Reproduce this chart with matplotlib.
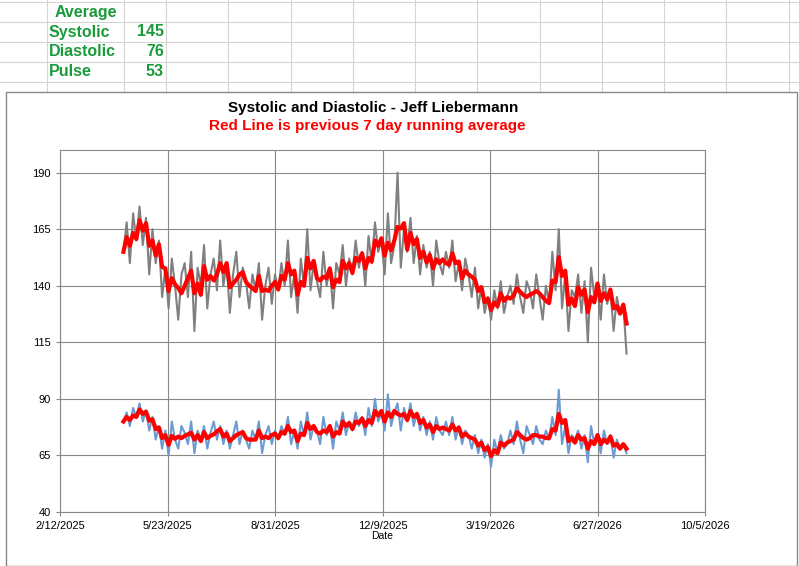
import matplotlib
matplotlib.use("Agg")
import matplotlib.pyplot as plt
from matplotlib.lines import Line2D
from matplotlib.patches import Rectangle
import pandas as pd

plt.rcParams['font.family'] = ['Liberation Sans', 'DejaVu Sans']

start_date = "2025-04-12"
step_days = 3
systolic = [
155,168,150,172,160,175,158,170,145,165,
150,160,135,148,130,152,140,125,145,150,
135,155,120,148,140,158,130,145,152,138,
160,140,150,128,145,155,135,148,142,130,
145,138,150,125,140,148,132,145,138,150,
140,160,135,145,128,152,140,165,138,150,
142,135,155,140,148,130,150,145,158,140,
152,145,160,148,155,140,162,150,168,155,
160,145,172,150,158,190,148,165,155,170,
150,162,145,158,148,155,140,160,150,145,
155,148,160,142,150,138,152,145,135,148,
130,140,128,135,125,138,130,142,128,135,
140,132,145,135,128,142,138,130,145,135,
125,140,132,155,138,165,130,145,120,138,
135,145,128,142,115,148,135,140,125,145,
132,138,120,135,128,132,110]
diastolic = [
80,84,78,86,82,88,80,85,76,82,
72,78,68,76,65,80,72,68,78,75,
70,80,66,76,72,78,68,75,80,72,
78,70,76,68,74,80,70,76,72,68,
76,72,80,66,74,78,70,76,72,78,
74,82,70,76,68,80,74,84,72,78,
76,70,82,74,78,68,80,76,84,74,
80,76,84,78,82,74,86,78,90,80,
84,76,92,78,84,88,76,86,80,88,
78,84,76,82,74,80,72,82,76,74,
80,74,82,72,78,70,76,74,68,74,
66,72,64,70,60,72,66,74,68,70,
76,70,80,72,66,78,74,70,78,72,
70,76,72,82,74,94,70,78,66,74,
72,76,68,74,62,78,70,74,66,76,
70,74,64,72,68,70,66]
summary_labels = ["Systolic", "Diastolic", "Pulse"]
summary_values = [145, 76, 53]
xtick_labels = ["2/12/2025","5/23/2025","8/31/2025","12/9/2025","3/19/2026","6/27/2026","10/5/2026"]
yticks = [40, 65, 90, 115, 140, 165, 190]

dates = pd.date_range(start_date, periods=len(systolic), freq=f"{step_days}D")
sys_avg = pd.Series(systolic).rolling(3, min_periods=1).mean()
dia_avg = pd.Series(diastolic).rolling(3, min_periods=1).mean()

W, H = 799, 566
fig = plt.figure(figsize=(W/100, H/100), dpi=100)
fig.patch.set_facecolor("white")
def fx(x): return x / W
def fy(y): return 1 - y / H

for x in [47,124,166,228,291,353,415,477,540,602,664,726,789]:
    fig.add_artist(Line2D([fx(x), fx(x)], [fy(0), fy(92)], color="#d4d4d4", lw=0.8, zorder=-3))
for y in [2,22,42,62,82]:
    fig.add_artist(Line2D([0, 1], [fy(y), fy(y)], color="#d4d4d4", lw=0.8, zorder=-3))
green = "#1a9a3a"
fig.text(fx(55), fy(12), "Average", color=green, fontsize=11.5, fontweight="bold", va="center")
for i, (lab, v) in enumerate(zip(summary_labels, summary_values)):
    yy = 32 + 20 * i
    fig.text(fx(49), fy(yy), lab, color=green, fontsize=11.5, fontweight="bold", va="center")
    fig.text(fx(164), fy(yy), str(v), color=green, fontsize=11.5, fontweight="bold", va="center", ha="right")

fig.add_artist(Rectangle((fx(6), fy(566)), fx(791), 474/H, facecolor="white", edgecolor="#888888", lw=1, zorder=-2))

ax = fig.add_axes([fx(60), fy(512), fx(645), 362/H])
ax.plot(dates, systolic, color="#808080", lw=1.5)
ax.plot(dates, diastolic, color="#6c9bd2", lw=1.5)
ax.plot(dates, sys_avg, color="#ff0000", lw=3)
ax.plot(dates, dia_avg, color="#ff0000", lw=3)

x0 = pd.Timestamp("2025-02-12")
ticks = [x0 + pd.Timedelta(days=100 * i) for i in range(7)]
ax.set_xlim(ticks[0], ticks[-1])
ax.set_xticks(ticks)
ax.set_xticklabels(xtick_labels, fontsize=8)
ax.set_ylim(40, 200)
ax.set_yticks(yticks)
ax.set_yticklabels([str(t) for t in yticks], fontsize=8)
ax.grid(True, color="#888888", lw=0.8)
ax.set_axisbelow(True)
for s in ax.spines.values():
    s.set_color("#888888")
ax.tick_params(length=3, color="#888888")
ax.set_xlabel("Date", fontsize=7.5, labelpad=0)

fig.text(fx(373), fy(108), "Systolic and Diastolic - Jeff Liebermann", ha="center", va="center", fontsize=11, fontweight="bold")
fig.text(fx(367), fy(126), "Red Line is previous 7 day running average", ha="center", va="center", fontsize=11, fontweight="bold", color="red")

fig.savefig("out.png", dpi=100)
